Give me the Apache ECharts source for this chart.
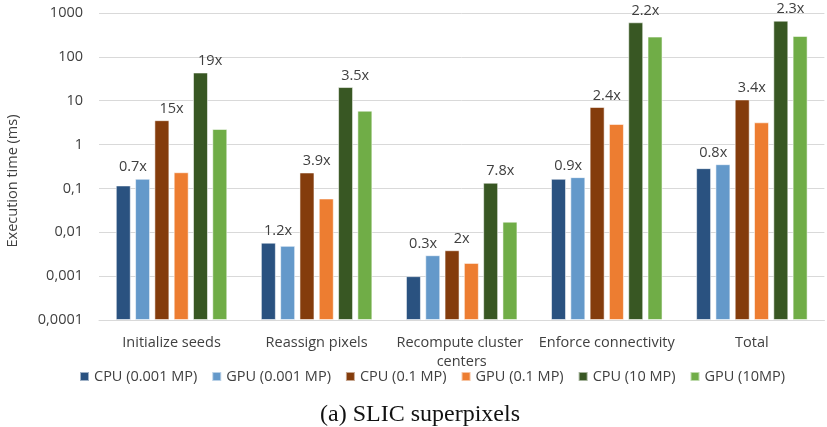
<!DOCTYPE html>
<html>
<head>
<meta charset="utf-8">
<script src="https://cdn.jsdelivr.net/npm/echarts@6/dist/echarts.min.js"></script>
<style>html,body{margin:0;padding:0;background:#fff;}#c{width:827px;height:427px;}</style>
</head>
<body>
<div id="c"></div>
<script>
var categories = ['Initialize seeds', 'Reassign pixels', 'Recompute cluster centers', 'Enforce connectivity', 'Total'];
var seriesNames = ['CPU (0.001 MP)', 'GPU (0.001 MP)', 'CPU (0.1 MP)', 'GPU (0.1 MP)', 'CPU (10 MP)', 'GPU (10MP)'];
var cpu0001 = [0.117, 0.0058, 0.001, 0.166, 0.29];
var gpu0001 = [0.166, 0.0049, 0.0030, 0.181, 0.357];
var cpu01 = [3.6, 0.231, 0.0039, 7.2, 10.7];
var gpu01 = [0.234, 0.059, 0.0020, 2.95, 3.22];
var cpu10 = [44, 20.5, 0.135, 614, 670];
var gpu10 = [2.27, 5.93, 0.0175, 290, 300];
var speedup0001 = ['0.7x', '1.2x', '0.3x', '0.9x', '0.8x'];
var speedup01 = ['15x', '3.9x', '2x', '2.4x', '3.4x'];
var speedup10 = ['19x', '3.5x', '7.8x', '2.2x', '2.3x'];
var yTickLabels = ['0,0001', '0,001', '0,01', '0,1', '1', '10', '100', '1000'];
var colors = ['#2A5280', '#6499CA', '#843C0C', '#ED7D31', '#385723', '#70AD47'];

// log-scale axis: values are plotted as decades above the axis minimum (0.0001 ms)
var yMinValue = 0.0001;
function toDecades(v) { return Math.log10(v) - Math.log10(yMinValue); }

var barW = 15, gapPx = 4.3;
var half = (barW + gapPx) / 2;
var textColor = '#404040';
var font = 'Open Sans';
var fs = 14.5;

function buildPair(cpu, gpu, labels) {
  var a = [], b = [];
  for (var i = 0; i < cpu.length; i++) {
    var cpuTaller = cpu[i] >= gpu[i];
    var lab = {show: true, position: 'top', distance: 4, formatter: labels[i],
      color: textColor, fontFamily: font, fontSize: fs};
    if (cpuTaller) {
      a.push({value: toDecades(cpu[i]), label: Object.assign({}, lab, {offset: [half, 0]})});
      b.push({value: toDecades(gpu[i])});
    } else {
      a.push({value: toDecades(cpu[i])});
      b.push({value: toDecades(gpu[i]), label: Object.assign({}, lab, {offset: [-half, 0]})});
    }
  }
  return [a, b];
}
var p1 = buildPair(cpu0001, gpu0001, speedup0001);
var p2 = buildPair(cpu01, gpu01, speedup01);
var p3 = buildPair(cpu10, gpu10, speedup10);
var allData = [p1[0], p1[1], p2[0], p2[1], p3[0], p3[1]];

var series = allData.map(function (d, i) {
  return {
    name: seriesNames[i], type: 'bar', data: d, barWidth: barW, barGap: (gapPx / barW * 100) + '%',
    itemStyle: {color: colors[i], borderColor: 'rgba(255,255,255,0.55)', borderWidth: 1},
    emphasis: {disabled: true}
  };
});

var chart = echarts.init(document.getElementById('c'), null, {renderer: 'canvas'});
chart.setOption({
  animation: false,
  backgroundColor: '#fff',
  color: colors,
  title: {
    text: '(a) SLIC superpixels', left: 415, textAlign: 'center', top: 398,
    textStyle: {fontFamily: 'Liberation Serif', fontSize: 24, fontWeight: 'normal', color: '#111'}
  },
  legend: {
    data: seriesNames, left: 79, top: 369, padding: 0, icon: 'rect', itemWidth: 9, itemHeight: 9, itemGap: 14,
    textStyle: {fontFamily: font, fontSize: fs, color: textColor}
  },
  grid: {left: 99, top: 13, width: 734, height: 307, containLabel: false},
  xAxis: {
    type: 'category', data: categories,
    axisLine: {lineStyle: {color: '#d9d9d9', width: 1}},
    axisTick: {show: false},
    axisLabel: {
      interval: 0, margin: 13, color: textColor, fontFamily: font, fontSize: fs, lineHeight: 19,
      width: 146, overflow: 'break'
    }
  },
  yAxis: {
    type: 'value', min: 0, max: yTickLabels.length - 1, interval: 1,
    axisLine: {show: false}, axisTick: {show: false},
    splitLine: {lineStyle: {color: '#d9d9d9', width: 1}},
    axisLabel: {
      margin: 16, color: textColor, fontFamily: font, fontSize: fs,
      formatter: function (v) { return yTickLabels[Math.round(v)] || ''; }
    }
  },
  graphic: [{
    type: 'text', x: 13, y: 181, rotation: Math.PI / 2,
    style: {text: 'Execution time (ms)', fill: textColor, font: fs + 'px "Open Sans"', textAlign: 'center', textVerticalAlign: 'middle'}
  }],
  series: series
});
</script>
</body>
</html>
